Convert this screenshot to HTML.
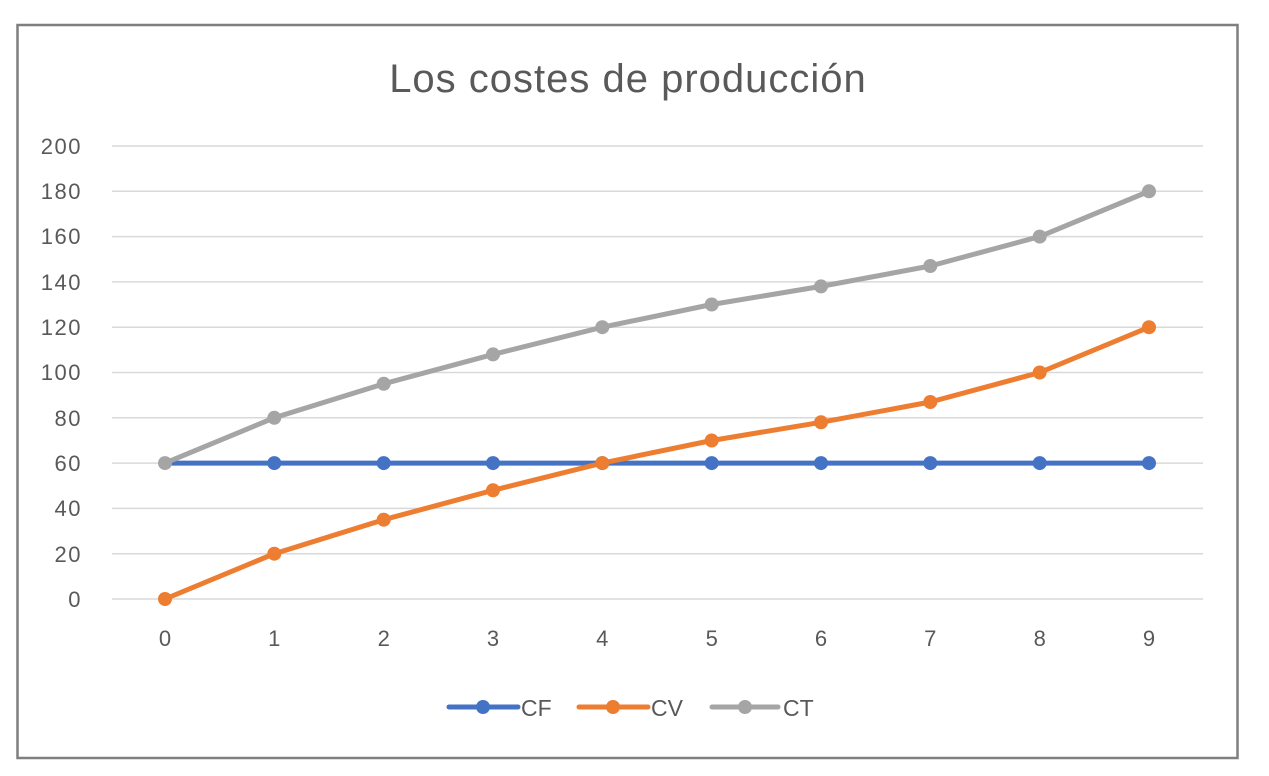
<!DOCTYPE html>
<html><head><style>
body{margin:0;background:#fff;}
svg{display:block;font-family:"Liberation Sans",sans-serif;}
</style></head><body>
<svg width="1269" height="776" viewBox="0 0 1269 776">
<rect x="0" y="0" width="1269" height="776" fill="#fff"/>
<rect x="17.5" y="25" width="1220" height="733" fill="#fff" stroke="#7f7f7f" stroke-width="2.5"/>
<text x="628" y="92" text-anchor="middle" font-size="40" letter-spacing="1" fill="#595959">Los costes de producción</text>
<g stroke="#d9d9d9" stroke-width="1.5">
<line x1="112" x2="1203" y1="146" y2="146"/><line x1="112" x2="1203" y1="191.3" y2="191.3"/>
<line x1="112" x2="1203" y1="236.6" y2="236.6"/><line x1="112" x2="1203" y1="281.9" y2="281.9"/>
<line x1="112" x2="1203" y1="327.2" y2="327.2"/><line x1="112" x2="1203" y1="372.5" y2="372.5"/>
<line x1="112" x2="1203" y1="417.8" y2="417.8"/><line x1="112" x2="1203" y1="463.1" y2="463.1"/>
<line x1="112" x2="1203" y1="508.4" y2="508.4"/><line x1="112" x2="1203" y1="553.7" y2="553.7"/>
<line x1="112" x2="1203" y1="599" y2="599"/>
</g>
<g font-size="22" letter-spacing="1.5" fill="#595959" text-anchor="end">
<text x="82" y="154">200</text><text x="82" y="199">180</text><text x="82" y="244">160</text>
<text x="82" y="290">140</text><text x="82" y="335">120</text><text x="82" y="380">100</text>
<text x="82" y="426">80</text><text x="82" y="471">60</text><text x="82" y="516">40</text>
<text x="82" y="562">20</text><text x="82" y="607">0</text>
</g>
<g font-size="22" fill="#595959" text-anchor="middle">
<text x="165" y="646">0</text><text x="274.3" y="646">1</text><text x="383.7" y="646">2</text>
<text x="493" y="646">3</text><text x="602.3" y="646">4</text><text x="711.7" y="646">5</text>
<text x="821" y="646">6</text><text x="930.3" y="646">7</text><text x="1039.7" y="646">8</text>
<text x="1149" y="646">9</text>
</g>
<g fill="none" stroke-width="5" stroke-linejoin="round" stroke-linecap="round">
<polyline stroke="#4472c4" points="165,463.1 1149,463.1"/>
<polyline stroke="#ed7d31" points="165,599 274.3,553.7 383.7,519.7 493,490.3 602.3,463.1 711.7,440.5 821,422.3 930.3,402 1039.7,372.5 1149,327.2"/>
<polyline stroke="#a5a5a5" points="165,463.1 274.3,417.8 383.7,383.8 493,354.4 602.3,327.2 711.7,304.5 821,286.4 930.3,266 1039.7,236.6 1149,191.3"/>
</g>
<g fill="#4472c4">
<circle cx="274.3" cy="463.1" r="7"/><circle cx="383.7" cy="463.1" r="7"/><circle cx="493" cy="463.1" r="7"/>
<circle cx="602.3" cy="463.1" r="7"/><circle cx="711.7" cy="463.1" r="7"/><circle cx="821" cy="463.1" r="7"/>
<circle cx="930.3" cy="463.1" r="7"/><circle cx="1039.7" cy="463.1" r="7"/><circle cx="1149" cy="463.1" r="7"/>
</g>
<g fill="#ed7d31">
<circle cx="165" cy="599" r="7"/><circle cx="274.3" cy="553.7" r="7"/><circle cx="383.7" cy="519.7" r="7"/>
<circle cx="493" cy="490.3" r="7"/><circle cx="602.3" cy="463.1" r="7"/><circle cx="711.7" cy="440.5" r="7"/>
<circle cx="821" cy="422.3" r="7"/><circle cx="930.3" cy="402" r="7"/><circle cx="1039.7" cy="372.5" r="7"/>
<circle cx="1149" cy="327.2" r="7"/>
</g>
<g fill="#a5a5a5">
<circle cx="165" cy="463.1" r="7"/><circle cx="274.3" cy="417.8" r="7"/><circle cx="383.7" cy="383.8" r="7"/>
<circle cx="493" cy="354.4" r="7"/><circle cx="602.3" cy="327.2" r="7"/><circle cx="711.7" cy="304.5" r="7"/>
<circle cx="821" cy="286.4" r="7"/><circle cx="930.3" cy="266" r="7"/><circle cx="1039.7" cy="236.6" r="7"/>
<circle cx="1149" cy="191.3" r="7"/>
</g>
<g stroke-width="5" stroke-linecap="round">
<line x1="449" x2="518" y1="707" y2="707" stroke="#4472c4"/>
<line x1="579" x2="648" y1="707" y2="707" stroke="#ed7d31"/>
<line x1="712" x2="778" y1="707" y2="707" stroke="#a5a5a5"/>
</g>
<circle cx="483" cy="707" r="7" fill="#4472c4"/>
<circle cx="613" cy="707" r="7" fill="#ed7d31"/>
<circle cx="745" cy="707" r="7" fill="#a5a5a5"/>
<g font-size="23" fill="#595959">
<text x="521" y="716">CF</text><text x="651" y="716">CV</text><text x="783" y="716">CT</text>
</g>
</svg>
</body></html>
